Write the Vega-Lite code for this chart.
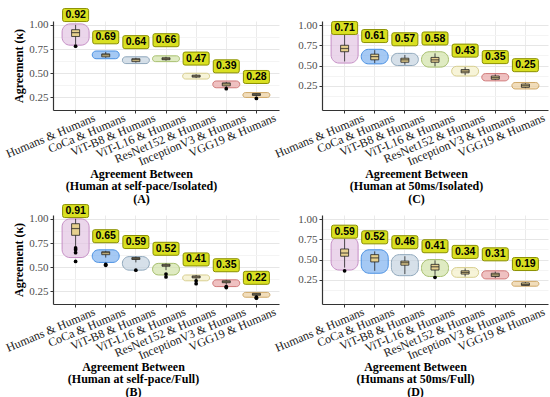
{
  "$schema": "https://vega.github.io/schema/vega-lite/v6.json",
  "padding": {"left": 3, "top": 6, "right": 2, "bottom": 2},
  "datasets": {
    "a": [
      {"cat": "Humans & Humans", "lo": 0.79, "hi": 1.01, "wlo": 0.80, "whi": 1.00, "q1": 0.88, "q3": 0.95, "med": 0.92, "k": 0.92},
      {"cat": "CoCa & Humans", "lo": 0.65, "hi": 0.73, "wlo": 0.66, "whi": 0.72, "q1": 0.67, "q3": 0.70, "med": 0.69, "k": 0.69},
      {"cat": "ViT-B8 & Humans", "lo": 0.60, "hi": 0.67, "wlo": 0.61, "whi": 0.66, "q1": 0.62, "q3": 0.65, "med": 0.64, "k": 0.64},
      {"cat": "ViT-L16 & Humans", "lo": 0.62, "hi": 0.68, "wlo": 0.63, "whi": 0.67, "q1": 0.64, "q3": 0.66, "med": 0.65, "k": 0.66},
      {"cat": "ResNet152 & Humans", "lo": 0.44, "hi": 0.50, "wlo": 0.45, "whi": 0.49, "q1": 0.46, "q3": 0.48, "med": 0.47, "k": 0.47},
      {"cat": "InceptionV3 & Humans", "lo": 0.35, "hi": 0.42, "wlo": 0.36, "whi": 0.41, "q1": 0.37, "q3": 0.40, "med": 0.39, "k": 0.39},
      {"cat": "VGG19 & Humans", "lo": 0.25, "hi": 0.30, "wlo": 0.26, "whi": 0.29, "q1": 0.27, "q3": 0.29, "med": 0.28, "k": 0.28}
    ],
    "b": [
      {"cat": "Humans & Humans", "lo": 0.60, "hi": 1.00, "wlo": 0.72, "whi": 1.00, "q1": 0.83, "q3": 0.95, "med": 0.90, "k": 0.91},
      {"cat": "CoCa & Humans", "lo": 0.55, "hi": 0.68, "wlo": 0.60, "whi": 0.67, "q1": 0.63, "q3": 0.66, "med": 0.65, "k": 0.65},
      {"cat": "ViT-B8 & Humans", "lo": 0.47, "hi": 0.61, "wlo": 0.55, "whi": 0.61, "q1": 0.58, "q3": 0.60, "med": 0.59, "k": 0.59},
      {"cat": "ViT-L16 & Humans", "lo": 0.42, "hi": 0.54, "wlo": 0.47, "whi": 0.54, "q1": 0.51, "q3": 0.53, "med": 0.52, "k": 0.52},
      {"cat": "ResNet152 & Humans", "lo": 0.36, "hi": 0.42, "wlo": 0.37, "whi": 0.42, "q1": 0.39, "q3": 0.41, "med": 0.40, "k": 0.41},
      {"cat": "InceptionV3 & Humans", "lo": 0.30, "hi": 0.37, "wlo": 0.32, "whi": 0.37, "q1": 0.34, "q3": 0.36, "med": 0.35, "k": 0.35},
      {"cat": "VGG19 & Humans", "lo": 0.19, "hi": 0.24, "wlo": 0.20, "whi": 0.23, "q1": 0.21, "q3": 0.23, "med": 0.22, "k": 0.22}
    ],
    "c": [
      {"cat": "Humans & Humans", "lo": 0.53, "hi": 0.96, "wlo": 0.55, "whi": 0.90, "q1": 0.67, "q3": 0.75, "med": 0.71, "k": 0.71},
      {"cat": "CoCa & Humans", "lo": 0.52, "hi": 0.70, "wlo": 0.53, "whi": 0.69, "q1": 0.57, "q3": 0.64, "med": 0.61, "k": 0.61},
      {"cat": "ViT-B8 & Humans", "lo": 0.50, "hi": 0.65, "wlo": 0.51, "whi": 0.63, "q1": 0.54, "q3": 0.59, "med": 0.57, "k": 0.57},
      {"cat": "ViT-L16 & Humans", "lo": 0.48, "hi": 0.67, "wlo": 0.49, "whi": 0.65, "q1": 0.54, "q3": 0.60, "med": 0.57, "k": 0.58},
      {"cat": "ResNet152 & Humans", "lo": 0.37, "hi": 0.49, "wlo": 0.38, "whi": 0.48, "q1": 0.41, "q3": 0.45, "med": 0.43, "k": 0.43},
      {"cat": "InceptionV3 & Humans", "lo": 0.31, "hi": 0.40, "wlo": 0.32, "whi": 0.39, "q1": 0.33, "q3": 0.37, "med": 0.35, "k": 0.35},
      {"cat": "VGG19 & Humans", "lo": 0.21, "hi": 0.29, "wlo": 0.22, "whi": 0.28, "q1": 0.23, "q3": 0.27, "med": 0.25, "k": 0.25}
    ],
    "d": [
      {"cat": "Humans & Humans", "lo": 0.37, "hi": 0.78, "wlo": 0.40, "whi": 0.76, "q1": 0.54, "q3": 0.63, "med": 0.58, "k": 0.59},
      {"cat": "CoCa & Humans", "lo": 0.33, "hi": 0.62, "wlo": 0.36, "whi": 0.60, "q1": 0.47, "q3": 0.56, "med": 0.52, "k": 0.52},
      {"cat": "ViT-B8 & Humans", "lo": 0.30, "hi": 0.56, "wlo": 0.32, "whi": 0.54, "q1": 0.43, "q3": 0.48, "med": 0.46, "k": 0.46},
      {"cat": "ViT-L16 & Humans", "lo": 0.29, "hi": 0.50, "wlo": 0.31, "whi": 0.49, "q1": 0.37, "q3": 0.44, "med": 0.41, "k": 0.41},
      {"cat": "ResNet152 & Humans", "lo": 0.28, "hi": 0.40, "wlo": 0.29, "whi": 0.39, "q1": 0.32, "q3": 0.36, "med": 0.34, "k": 0.34},
      {"cat": "InceptionV3 & Humans", "lo": 0.26, "hi": 0.36, "wlo": 0.27, "whi": 0.35, "q1": 0.29, "q3": 0.33, "med": 0.31, "k": 0.31},
      {"cat": "VGG19 & Humans", "lo": 0.17, "hi": 0.23, "wlo": 0.18, "whi": 0.22, "q1": 0.18, "q3": 0.21, "med": 0.19, "k": 0.19}
    ],
    "oa": [
      {"cat": "Humans & Humans", "v": 0.78},
      {"cat": "InceptionV3 & Humans", "v": 0.34},
      {"cat": "VGG19 & Humans", "v": 0.24}
    ],
    "ob": [
      {"cat": "Humans & Humans", "v": 0.70},
      {"cat": "Humans & Humans", "v": 0.68},
      {"cat": "Humans & Humans", "v": 0.65},
      {"cat": "Humans & Humans", "v": 0.56},
      {"cat": "CoCa & Humans", "v": 0.53},
      {"cat": "CoCa & Humans", "v": 0.52},
      {"cat": "ViT-B8 & Humans", "v": 0.47},
      {"cat": "ViT-L16 & Humans", "v": 0.43},
      {"cat": "ViT-L16 & Humans", "v": 0.40},
      {"cat": "ResNet152 & Humans", "v": 0.36},
      {"cat": "ResNet152 & Humans", "v": 0.33},
      {"cat": "InceptionV3 & Humans", "v": 0.30},
      {"cat": "InceptionV3 & Humans", "v": 0.29},
      {"cat": "VGG19 & Humans", "v": 0.19},
      {"cat": "VGG19 & Humans", "v": 0.18}
    ],
    "od": [
      {"cat": "Humans & Humans", "v": 0.36},
      {"cat": "ViT-L16 & Humans", "v": 0.28}
    ]
  },
  "concat": [
    {
      "width": 226, "height": 89,
      "data": {"name": "a"},
      "encoding": {
        "x": {"field": "cat", "type": "nominal", "sort": ["Humans & Humans", "CoCa & Humans", "ViT-B8 & Humans", "ViT-L16 & Humans", "ResNet152 & Humans", "InceptionV3 & Humans", "VGG19 & Humans"],
          "scale": {"paddingInner": 0, "paddingOuter": 0.25},
          "axis": {"title": ["Agreement Between", "(Human at self-pace/Isolated)", "(A)"], "titleX": 88, "titleY": 58, "titleBaseline": "top", "titleAlign": "center", "titleLineHeight": 12.5,
            "labelAngle": -23, "labelAlign": "right", "labelBaseline": "top", "labelOffset": 17, "labelPadding": -1, "labelFontSize": 12, "labelColor": "#1a1a1a", "labelOverlap": false, "labelBound": false, "grid": true}}
      },
      "layer": [
        {"mark": {"type": "bar", "width": 27, "cornerRadius": 8, "fillOpacity": 0.7, "strokeWidth": 1},
          "encoding": {
            "y": {"field": "lo", "type": "quantitative", "scale": {"domain": [0.12, 1.04]},
              "axis": {"title": "Agreement (κ)", "titlePadding": 3, "values": [0.125, 0.25, 0.375, 0.5, 0.625, 0.75, 0.875, 1], "labelExpr": "datum.value % 0.25 > 0.01 ? '' : format(datum.value, '.2f')", "labelFontSize": 11, "labelColor": "#4d4d4d", "labelPadding": 2, "gridColor": {"condition": {"test": "datum.value % 0.25 > 0.01", "value": "#f4f4f4"}, "value": "#e6e6e6"}, "tickOpacity": {"condition": {"test": "datum.value % 0.25 > 0.01", "value": 0}, "value": 1}}},
            "y2": {"field": "hi"},
            "fill": {"field": "cat", "type": "nominal", "scale": {"domain": ["Humans & Humans", "CoCa & Humans", "ViT-B8 & Humans", "ViT-L16 & Humans", "ResNet152 & Humans", "InceptionV3 & Humans", "VGG19 & Humans"], "range": ["#e3c4e3", "#7fb2f0", "#c5d3df", "#d2e3a8", "#f3efc8", "#e8a6a6", "#ebcf9e"]}, "legend": null},
            "stroke": {"field": "cat", "type": "nominal", "scale": {"domain": ["Humans & Humans", "CoCa & Humans", "ViT-B8 & Humans", "ViT-L16 & Humans", "ResNet152 & Humans", "InceptionV3 & Humans", "VGG19 & Humans"], "range": ["#c58ec5", "#4a90e2", "#90a8bc", "#a8c070", "#d8cf90", "#d07a7a", "#cfa868"]}, "legend": null}
          }},
        {"mark": {"type": "rule", "color": "#222", "strokeWidth": 0.8},
          "encoding": {"y": {"field": "wlo", "type": "quantitative", "scale": {"domain": [0.12, 1.04]},
              "axis": {"title": "Agreement (κ)", "titlePadding": 3, "values": [0.125, 0.25, 0.375, 0.5, 0.625, 0.75, 0.875, 1], "labelExpr": "datum.value % 0.25 > 0.01 ? '' : format(datum.value, '.2f')", "labelFontSize": 11, "labelColor": "#4d4d4d", "labelPadding": 2, "gridColor": {"condition": {"test": "datum.value % 0.25 > 0.01", "value": "#f4f4f4"}, "value": "#e6e6e6"}, "tickOpacity": {"condition": {"test": "datum.value % 0.25 > 0.01", "value": 0}, "value": 1}}}, "y2": {"field": "whi"}}},
        {"mark": {"type": "bar", "width": 8, "fill": "#e6d08e", "stroke": "#222", "strokeWidth": 0.8},
          "encoding": {"y": {"field": "q1", "type": "quantitative", "scale": {"domain": [0.12, 1.04]},
              "axis": {"title": "Agreement (κ)", "titlePadding": 3, "values": [0.125, 0.25, 0.375, 0.5, 0.625, 0.75, 0.875, 1], "labelExpr": "datum.value % 0.25 > 0.01 ? '' : format(datum.value, '.2f')", "labelFontSize": 11, "labelColor": "#4d4d4d", "labelPadding": 2, "gridColor": {"condition": {"test": "datum.value % 0.25 > 0.01", "value": "#f4f4f4"}, "value": "#e6e6e6"}, "tickOpacity": {"condition": {"test": "datum.value % 0.25 > 0.01", "value": 0}, "value": 1}}}, "y2": {"field": "q3"}}},
        {"mark": {"type": "tick", "color": "#222", "size": 8, "thickness": 1.2},
          "encoding": {"y": {"field": "med", "type": "quantitative", "scale": {"domain": [0.12, 1.04]},
              "axis": {"title": "Agreement (κ)", "titlePadding": 3, "values": [0.125, 0.25, 0.375, 0.5, 0.625, 0.75, 0.875, 1], "labelExpr": "datum.value % 0.25 > 0.01 ? '' : format(datum.value, '.2f')", "labelFontSize": 11, "labelColor": "#4d4d4d", "labelPadding": 2, "gridColor": {"condition": {"test": "datum.value % 0.25 > 0.01", "value": "#f4f4f4"}, "value": "#e6e6e6"}, "tickOpacity": {"condition": {"test": "datum.value % 0.25 > 0.01", "value": 0}, "value": 1}}}}},
        {"data": {"name": "oa"}, "mark": {"type": "point", "filled": true, "color": "#000", "size": 14, "opacity": 1},
          "encoding": {"y": {"field": "v", "type": "quantitative", "scale": {"domain": [0.12, 1.04]},
              "axis": {"title": "Agreement (κ)", "titlePadding": 3, "values": [0.125, 0.25, 0.375, 0.5, 0.625, 0.75, 0.875, 1], "labelExpr": "datum.value % 0.25 > 0.01 ? '' : format(datum.value, '.2f')", "labelFontSize": 11, "labelColor": "#4d4d4d", "labelPadding": 2, "gridColor": {"condition": {"test": "datum.value % 0.25 > 0.01", "value": "#f4f4f4"}, "value": "#e6e6e6"}, "tickOpacity": {"condition": {"test": "datum.value % 0.25 > 0.01", "value": 0}, "value": 1}}}}},
        {"mark": {"type": "point", "shape": "M-0.85,-1.85H0.85Q1,-1.85 1,-1.7V-1Q1,-0.85 0.85,-0.85H-0.85Q-1,-0.85 -1,-1V-1.7Q-1,-1.85 -0.85,-1.85Z", "size": 676, "filled": true, "fill": "#d9e021", "fillOpacity": 1, "stroke": "#8a8f00", "strokeWidth": 1, "opacity": 1},
          "encoding": {"y": {"field": "k", "type": "quantitative", "scale": {"domain": [0.12, 1.04]},
              "axis": {"title": "Agreement (κ)", "titlePadding": 3, "values": [0.125, 0.25, 0.375, 0.5, 0.625, 0.75, 0.875, 1], "labelExpr": "datum.value % 0.25 > 0.01 ? '' : format(datum.value, '.2f')", "labelFontSize": 11, "labelColor": "#4d4d4d", "labelPadding": 2, "gridColor": {"condition": {"test": "datum.value % 0.25 > 0.01", "value": "#f4f4f4"}, "value": "#e6e6e6"}, "tickOpacity": {"condition": {"test": "datum.value % 0.25 > 0.01", "value": 0}, "value": 1}}}}},
        {"mark": {"type": "text", "dy": -17.5, "font": "Liberation Sans", "fontWeight": "bold", "fontSize": 10.5, "color": "#000", "baseline": "middle"},
          "encoding": {"y": {"field": "k", "type": "quantitative", "scale": {"domain": [0.12, 1.04]},
              "axis": {"title": "Agreement (κ)", "titlePadding": 3, "values": [0.125, 0.25, 0.375, 0.5, 0.625, 0.75, 0.875, 1], "labelExpr": "datum.value % 0.25 > 0.01 ? '' : format(datum.value, '.2f')", "labelFontSize": 11, "labelColor": "#4d4d4d", "labelPadding": 2, "gridColor": {"condition": {"test": "datum.value % 0.25 > 0.01", "value": "#f4f4f4"}, "value": "#e6e6e6"}, "tickOpacity": {"condition": {"test": "datum.value % 0.25 > 0.01", "value": 0}, "value": 1}}}, "text": {"field": "k", "type": "quantitative", "format": ".2f"}}}
      ]
    },
    {
      "width": 226, "height": 89,
      "data": {"name": "c"},
      "encoding": {
        "x": {"field": "cat", "type": "nominal", "sort": ["Humans & Humans", "CoCa & Humans", "ViT-B8 & Humans", "ViT-L16 & Humans", "ResNet152 & Humans", "InceptionV3 & Humans", "VGG19 & Humans"],
          "scale": {"paddingInner": 0, "paddingOuter": 0.25},
          "axis": {"title": ["Agreement Between", "(Human at 50ms/Isolated)", "(C)"], "titleX": 94, "titleY": 58, "titleBaseline": "top", "titleAlign": "center", "titleLineHeight": 12.5,
            "labelAngle": -23, "labelAlign": "right", "labelBaseline": "top", "labelOffset": 17, "labelPadding": -1, "labelFontSize": 12, "labelColor": "#1a1a1a", "labelOverlap": false, "labelBound": false, "grid": true}}
      },
      "layer": [
        {"mark": {"type": "bar", "width": 27, "cornerRadius": 8, "fillOpacity": 0.7, "strokeWidth": 1},
          "encoding": {
            "y": {"field": "lo", "type": "quantitative", "scale": {"domain": [-0.05, 1.05]},
              "axis": {"title": null, "values": [0.125, 0.25, 0.375, 0.5, 0.625, 0.75, 0.875, 1], "labelExpr": "datum.value % 0.25 > 0.01 ? '' : format(datum.value, '.2f')", "labelFontSize": 11, "labelColor": "#4d4d4d", "labelPadding": 2, "gridColor": {"condition": {"test": "datum.value % 0.25 > 0.01", "value": "#f4f4f4"}, "value": "#e6e6e6"}, "tickOpacity": {"condition": {"test": "datum.value % 0.25 > 0.01", "value": 0}, "value": 1}}},
            "y2": {"field": "hi"},
            "fill": {"field": "cat", "type": "nominal", "scale": {"domain": ["Humans & Humans", "CoCa & Humans", "ViT-B8 & Humans", "ViT-L16 & Humans", "ResNet152 & Humans", "InceptionV3 & Humans", "VGG19 & Humans"], "range": ["#e3c4e3", "#7fb2f0", "#c5d3df", "#d2e3a8", "#f3efc8", "#e8a6a6", "#ebcf9e"]}, "legend": null},
            "stroke": {"field": "cat", "type": "nominal", "scale": {"domain": ["Humans & Humans", "CoCa & Humans", "ViT-B8 & Humans", "ViT-L16 & Humans", "ResNet152 & Humans", "InceptionV3 & Humans", "VGG19 & Humans"], "range": ["#c58ec5", "#4a90e2", "#90a8bc", "#a8c070", "#d8cf90", "#d07a7a", "#cfa868"]}, "legend": null}
          }},
        {"mark": {"type": "rule", "color": "#222", "strokeWidth": 0.8},
          "encoding": {"y": {"field": "wlo", "type": "quantitative", "scale": {"domain": [-0.05, 1.05]},
              "axis": {"title": null, "values": [0.125, 0.25, 0.375, 0.5, 0.625, 0.75, 0.875, 1], "labelExpr": "datum.value % 0.25 > 0.01 ? '' : format(datum.value, '.2f')", "labelFontSize": 11, "labelColor": "#4d4d4d", "labelPadding": 2, "gridColor": {"condition": {"test": "datum.value % 0.25 > 0.01", "value": "#f4f4f4"}, "value": "#e6e6e6"}, "tickOpacity": {"condition": {"test": "datum.value % 0.25 > 0.01", "value": 0}, "value": 1}}}, "y2": {"field": "whi"}}},
        {"mark": {"type": "bar", "width": 8, "fill": "#e6d08e", "stroke": "#222", "strokeWidth": 0.8},
          "encoding": {"y": {"field": "q1", "type": "quantitative", "scale": {"domain": [-0.05, 1.05]},
              "axis": {"title": null, "values": [0.125, 0.25, 0.375, 0.5, 0.625, 0.75, 0.875, 1], "labelExpr": "datum.value % 0.25 > 0.01 ? '' : format(datum.value, '.2f')", "labelFontSize": 11, "labelColor": "#4d4d4d", "labelPadding": 2, "gridColor": {"condition": {"test": "datum.value % 0.25 > 0.01", "value": "#f4f4f4"}, "value": "#e6e6e6"}, "tickOpacity": {"condition": {"test": "datum.value % 0.25 > 0.01", "value": 0}, "value": 1}}}, "y2": {"field": "q3"}}},
        {"mark": {"type": "tick", "color": "#222", "size": 8, "thickness": 1.2},
          "encoding": {"y": {"field": "med", "type": "quantitative", "scale": {"domain": [-0.05, 1.05]},
              "axis": {"title": null, "values": [0.125, 0.25, 0.375, 0.5, 0.625, 0.75, 0.875, 1], "labelExpr": "datum.value % 0.25 > 0.01 ? '' : format(datum.value, '.2f')", "labelFontSize": 11, "labelColor": "#4d4d4d", "labelPadding": 2, "gridColor": {"condition": {"test": "datum.value % 0.25 > 0.01", "value": "#f4f4f4"}, "value": "#e6e6e6"}, "tickOpacity": {"condition": {"test": "datum.value % 0.25 > 0.01", "value": 0}, "value": 1}}}}},
        {"mark": {"type": "point", "shape": "M-0.85,-2.08H0.85Q1,-2.08 1,-1.93V-1.23Q1,-1.08 0.85,-1.08H-0.85Q-1,-1.08 -1,-1.23V-1.93Q-1,-2.08 -0.85,-2.08Z", "size": 676, "filled": true, "fill": "#d9e021", "fillOpacity": 1, "stroke": "#8a8f00", "strokeWidth": 1, "opacity": 1},
          "encoding": {"y": {"field": "k", "type": "quantitative", "scale": {"domain": [-0.05, 1.05]},
              "axis": {"title": null, "values": [0.125, 0.25, 0.375, 0.5, 0.625, 0.75, 0.875, 1], "labelExpr": "datum.value % 0.25 > 0.01 ? '' : format(datum.value, '.2f')", "labelFontSize": 11, "labelColor": "#4d4d4d", "labelPadding": 2, "gridColor": {"condition": {"test": "datum.value % 0.25 > 0.01", "value": "#f4f4f4"}, "value": "#e6e6e6"}, "tickOpacity": {"condition": {"test": "datum.value % 0.25 > 0.01", "value": 0}, "value": 1}}}}},
        {"mark": {"type": "text", "dy": -20.5, "font": "Liberation Sans", "fontWeight": "bold", "fontSize": 10.5, "color": "#000", "baseline": "middle"},
          "encoding": {"y": {"field": "k", "type": "quantitative", "scale": {"domain": [-0.05, 1.05]},
              "axis": {"title": null, "values": [0.125, 0.25, 0.375, 0.5, 0.625, 0.75, 0.875, 1], "labelExpr": "datum.value % 0.25 > 0.01 ? '' : format(datum.value, '.2f')", "labelFontSize": 11, "labelColor": "#4d4d4d", "labelPadding": 2, "gridColor": {"condition": {"test": "datum.value % 0.25 > 0.01", "value": "#f4f4f4"}, "value": "#e6e6e6"}, "tickOpacity": {"condition": {"test": "datum.value % 0.25 > 0.01", "value": 0}, "value": 1}}}, "text": {"field": "k", "type": "quantitative", "format": ".2f"}}}
      ]
    },
    {
      "width": 226, "height": 89,
      "data": {"name": "b"},
      "encoding": {
        "x": {"field": "cat", "type": "nominal", "sort": ["Humans & Humans", "CoCa & Humans", "ViT-B8 & Humans", "ViT-L16 & Humans", "ResNet152 & Humans", "InceptionV3 & Humans", "VGG19 & Humans"],
          "scale": {"paddingInner": 0, "paddingOuter": 0.25},
          "axis": {"title": ["Agreement Between", "(Human at self-pace/Full)", "(B)"], "titleX": 80, "titleY": 57, "titleBaseline": "top", "titleAlign": "center", "titleLineHeight": 12.5,
            "labelAngle": -23, "labelAlign": "right", "labelBaseline": "top", "labelOffset": 17, "labelPadding": -1, "labelFontSize": 12, "labelColor": "#1a1a1a", "labelOverlap": false, "labelBound": false, "grid": true}}
      },
      "layer": [
        {"mark": {"type": "bar", "width": 27, "cornerRadius": 8, "fillOpacity": 0.7, "strokeWidth": 1},
          "encoding": {
            "y": {"field": "lo", "type": "quantitative", "scale": {"domain": [0.12, 1.04]},
              "axis": {"title": "Agreement (κ)", "titlePadding": 3, "values": [0.125, 0.25, 0.375, 0.5, 0.625, 0.75, 0.875, 1], "labelExpr": "datum.value % 0.25 > 0.01 ? '' : format(datum.value, '.2f')", "labelFontSize": 11, "labelColor": "#4d4d4d", "labelPadding": 2, "gridColor": {"condition": {"test": "datum.value % 0.25 > 0.01", "value": "#f4f4f4"}, "value": "#e6e6e6"}, "tickOpacity": {"condition": {"test": "datum.value % 0.25 > 0.01", "value": 0}, "value": 1}}},
            "y2": {"field": "hi"},
            "fill": {"field": "cat", "type": "nominal", "scale": {"domain": ["Humans & Humans", "CoCa & Humans", "ViT-B8 & Humans", "ViT-L16 & Humans", "ResNet152 & Humans", "InceptionV3 & Humans", "VGG19 & Humans"], "range": ["#e3c4e3", "#7fb2f0", "#c5d3df", "#d2e3a8", "#f3efc8", "#e8a6a6", "#ebcf9e"]}, "legend": null},
            "stroke": {"field": "cat", "type": "nominal", "scale": {"domain": ["Humans & Humans", "CoCa & Humans", "ViT-B8 & Humans", "ViT-L16 & Humans", "ResNet152 & Humans", "InceptionV3 & Humans", "VGG19 & Humans"], "range": ["#c58ec5", "#4a90e2", "#90a8bc", "#a8c070", "#d8cf90", "#d07a7a", "#cfa868"]}, "legend": null}
          }},
        {"mark": {"type": "rule", "color": "#222", "strokeWidth": 0.8},
          "encoding": {"y": {"field": "wlo", "type": "quantitative", "scale": {"domain": [0.12, 1.04]},
              "axis": {"title": "Agreement (κ)", "titlePadding": 3, "values": [0.125, 0.25, 0.375, 0.5, 0.625, 0.75, 0.875, 1], "labelExpr": "datum.value % 0.25 > 0.01 ? '' : format(datum.value, '.2f')", "labelFontSize": 11, "labelColor": "#4d4d4d", "labelPadding": 2, "gridColor": {"condition": {"test": "datum.value % 0.25 > 0.01", "value": "#f4f4f4"}, "value": "#e6e6e6"}, "tickOpacity": {"condition": {"test": "datum.value % 0.25 > 0.01", "value": 0}, "value": 1}}}, "y2": {"field": "whi"}}},
        {"mark": {"type": "bar", "width": 8, "fill": "#e6d08e", "stroke": "#222", "strokeWidth": 0.8},
          "encoding": {"y": {"field": "q1", "type": "quantitative", "scale": {"domain": [0.12, 1.04]},
              "axis": {"title": "Agreement (κ)", "titlePadding": 3, "values": [0.125, 0.25, 0.375, 0.5, 0.625, 0.75, 0.875, 1], "labelExpr": "datum.value % 0.25 > 0.01 ? '' : format(datum.value, '.2f')", "labelFontSize": 11, "labelColor": "#4d4d4d", "labelPadding": 2, "gridColor": {"condition": {"test": "datum.value % 0.25 > 0.01", "value": "#f4f4f4"}, "value": "#e6e6e6"}, "tickOpacity": {"condition": {"test": "datum.value % 0.25 > 0.01", "value": 0}, "value": 1}}}, "y2": {"field": "q3"}}},
        {"mark": {"type": "tick", "color": "#222", "size": 8, "thickness": 1.2},
          "encoding": {"y": {"field": "med", "type": "quantitative", "scale": {"domain": [0.12, 1.04]},
              "axis": {"title": "Agreement (κ)", "titlePadding": 3, "values": [0.125, 0.25, 0.375, 0.5, 0.625, 0.75, 0.875, 1], "labelExpr": "datum.value % 0.25 > 0.01 ? '' : format(datum.value, '.2f')", "labelFontSize": 11, "labelColor": "#4d4d4d", "labelPadding": 2, "gridColor": {"condition": {"test": "datum.value % 0.25 > 0.01", "value": "#f4f4f4"}, "value": "#e6e6e6"}, "tickOpacity": {"condition": {"test": "datum.value % 0.25 > 0.01", "value": 0}, "value": 1}}}}},
        {"data": {"name": "ob"}, "mark": {"type": "point", "filled": true, "color": "#000", "size": 14, "opacity": 1},
          "encoding": {"y": {"field": "v", "type": "quantitative", "scale": {"domain": [0.12, 1.04]},
              "axis": {"title": "Agreement (κ)", "titlePadding": 3, "values": [0.125, 0.25, 0.375, 0.5, 0.625, 0.75, 0.875, 1], "labelExpr": "datum.value % 0.25 > 0.01 ? '' : format(datum.value, '.2f')", "labelFontSize": 11, "labelColor": "#4d4d4d", "labelPadding": 2, "gridColor": {"condition": {"test": "datum.value % 0.25 > 0.01", "value": "#f4f4f4"}, "value": "#e6e6e6"}, "tickOpacity": {"condition": {"test": "datum.value % 0.25 > 0.01", "value": 0}, "value": 1}}}}},
        {"mark": {"type": "point", "shape": "M-0.85,-1.77H0.85Q1,-1.77 1,-1.62V-0.92Q1,-0.77 0.85,-0.77H-0.85Q-1,-0.77 -1,-0.92V-1.62Q-1,-1.77 -0.85,-1.77Z", "size": 676, "filled": true, "fill": "#d9e021", "fillOpacity": 1, "stroke": "#8a8f00", "strokeWidth": 1, "opacity": 1},
          "encoding": {"y": {"field": "k", "type": "quantitative", "scale": {"domain": [0.12, 1.04]},
              "axis": {"title": "Agreement (κ)", "titlePadding": 3, "values": [0.125, 0.25, 0.375, 0.5, 0.625, 0.75, 0.875, 1], "labelExpr": "datum.value % 0.25 > 0.01 ? '' : format(datum.value, '.2f')", "labelFontSize": 11, "labelColor": "#4d4d4d", "labelPadding": 2, "gridColor": {"condition": {"test": "datum.value % 0.25 > 0.01", "value": "#f4f4f4"}, "value": "#e6e6e6"}, "tickOpacity": {"condition": {"test": "datum.value % 0.25 > 0.01", "value": 0}, "value": 1}}}}},
        {"mark": {"type": "text", "dy": -16.5, "font": "Liberation Sans", "fontWeight": "bold", "fontSize": 10.5, "color": "#000", "baseline": "middle"},
          "encoding": {"y": {"field": "k", "type": "quantitative", "scale": {"domain": [0.12, 1.04]},
              "axis": {"title": "Agreement (κ)", "titlePadding": 3, "values": [0.125, 0.25, 0.375, 0.5, 0.625, 0.75, 0.875, 1], "labelExpr": "datum.value % 0.25 > 0.01 ? '' : format(datum.value, '.2f')", "labelFontSize": 11, "labelColor": "#4d4d4d", "labelPadding": 2, "gridColor": {"condition": {"test": "datum.value % 0.25 > 0.01", "value": "#f4f4f4"}, "value": "#e6e6e6"}, "tickOpacity": {"condition": {"test": "datum.value % 0.25 > 0.01", "value": 0}, "value": 1}}}, "text": {"field": "k", "type": "quantitative", "format": ".2f"}}}
      ]
    },
    {
      "width": 226, "height": 89,
      "data": {"name": "d"},
      "encoding": {
        "x": {"field": "cat", "type": "nominal", "sort": ["Humans & Humans", "CoCa & Humans", "ViT-B8 & Humans", "ViT-L16 & Humans", "ResNet152 & Humans", "InceptionV3 & Humans", "VGG19 & Humans"],
          "scale": {"paddingInner": 0, "paddingOuter": 0.25},
          "axis": {"title": ["Agreement Between", "(Humans at 50ms/Full)", "(D)"], "titleX": 93, "titleY": 57, "titleBaseline": "top", "titleAlign": "center", "titleLineHeight": 12.5,
            "labelAngle": -23, "labelAlign": "right", "labelBaseline": "top", "labelOffset": 17, "labelPadding": -1, "labelFontSize": 12, "labelColor": "#1a1a1a", "labelOverlap": false, "labelBound": false, "grid": true}}
      },
      "layer": [
        {"mark": {"type": "bar", "width": 27, "cornerRadius": 8, "fillOpacity": 0.7, "strokeWidth": 1},
          "encoding": {
            "y": {"field": "lo", "type": "quantitative", "scale": {"domain": [-0.05, 1.05]},
              "axis": {"title": null, "values": [0.125, 0.25, 0.375, 0.5, 0.625, 0.75, 0.875, 1], "labelExpr": "datum.value % 0.25 > 0.01 ? '' : format(datum.value, '.2f')", "labelFontSize": 11, "labelColor": "#4d4d4d", "labelPadding": 2, "gridColor": {"condition": {"test": "datum.value % 0.25 > 0.01", "value": "#f4f4f4"}, "value": "#e6e6e6"}, "tickOpacity": {"condition": {"test": "datum.value % 0.25 > 0.01", "value": 0}, "value": 1}}},
            "y2": {"field": "hi"},
            "fill": {"field": "cat", "type": "nominal", "scale": {"domain": ["Humans & Humans", "CoCa & Humans", "ViT-B8 & Humans", "ViT-L16 & Humans", "ResNet152 & Humans", "InceptionV3 & Humans", "VGG19 & Humans"], "range": ["#e3c4e3", "#7fb2f0", "#c5d3df", "#d2e3a8", "#f3efc8", "#e8a6a6", "#ebcf9e"]}, "legend": null},
            "stroke": {"field": "cat", "type": "nominal", "scale": {"domain": ["Humans & Humans", "CoCa & Humans", "ViT-B8 & Humans", "ViT-L16 & Humans", "ResNet152 & Humans", "InceptionV3 & Humans", "VGG19 & Humans"], "range": ["#c58ec5", "#4a90e2", "#90a8bc", "#a8c070", "#d8cf90", "#d07a7a", "#cfa868"]}, "legend": null}
          }},
        {"mark": {"type": "rule", "color": "#222", "strokeWidth": 0.8},
          "encoding": {"y": {"field": "wlo", "type": "quantitative", "scale": {"domain": [-0.05, 1.05]},
              "axis": {"title": null, "values": [0.125, 0.25, 0.375, 0.5, 0.625, 0.75, 0.875, 1], "labelExpr": "datum.value % 0.25 > 0.01 ? '' : format(datum.value, '.2f')", "labelFontSize": 11, "labelColor": "#4d4d4d", "labelPadding": 2, "gridColor": {"condition": {"test": "datum.value % 0.25 > 0.01", "value": "#f4f4f4"}, "value": "#e6e6e6"}, "tickOpacity": {"condition": {"test": "datum.value % 0.25 > 0.01", "value": 0}, "value": 1}}}, "y2": {"field": "whi"}}},
        {"mark": {"type": "bar", "width": 8, "fill": "#e6d08e", "stroke": "#222", "strokeWidth": 0.8},
          "encoding": {"y": {"field": "q1", "type": "quantitative", "scale": {"domain": [-0.05, 1.05]},
              "axis": {"title": null, "values": [0.125, 0.25, 0.375, 0.5, 0.625, 0.75, 0.875, 1], "labelExpr": "datum.value % 0.25 > 0.01 ? '' : format(datum.value, '.2f')", "labelFontSize": 11, "labelColor": "#4d4d4d", "labelPadding": 2, "gridColor": {"condition": {"test": "datum.value % 0.25 > 0.01", "value": "#f4f4f4"}, "value": "#e6e6e6"}, "tickOpacity": {"condition": {"test": "datum.value % 0.25 > 0.01", "value": 0}, "value": 1}}}, "y2": {"field": "q3"}}},
        {"mark": {"type": "tick", "color": "#222", "size": 8, "thickness": 1.2},
          "encoding": {"y": {"field": "med", "type": "quantitative", "scale": {"domain": [-0.05, 1.05]},
              "axis": {"title": null, "values": [0.125, 0.25, 0.375, 0.5, 0.625, 0.75, 0.875, 1], "labelExpr": "datum.value % 0.25 > 0.01 ? '' : format(datum.value, '.2f')", "labelFontSize": 11, "labelColor": "#4d4d4d", "labelPadding": 2, "gridColor": {"condition": {"test": "datum.value % 0.25 > 0.01", "value": "#f4f4f4"}, "value": "#e6e6e6"}, "tickOpacity": {"condition": {"test": "datum.value % 0.25 > 0.01", "value": 0}, "value": 1}}}}},
        {"data": {"name": "od"}, "mark": {"type": "point", "filled": true, "color": "#000", "size": 14, "opacity": 1},
          "encoding": {"y": {"field": "v", "type": "quantitative", "scale": {"domain": [-0.05, 1.05]},
              "axis": {"title": null, "values": [0.125, 0.25, 0.375, 0.5, 0.625, 0.75, 0.875, 1], "labelExpr": "datum.value % 0.25 > 0.01 ? '' : format(datum.value, '.2f')", "labelFontSize": 11, "labelColor": "#4d4d4d", "labelPadding": 2, "gridColor": {"condition": {"test": "datum.value % 0.25 > 0.01", "value": "#f4f4f4"}, "value": "#e6e6e6"}, "tickOpacity": {"condition": {"test": "datum.value % 0.25 > 0.01", "value": 0}, "value": 1}}}}},
        {"mark": {"type": "point", "shape": "M-0.85,-2.08H0.85Q1,-2.08 1,-1.93V-1.23Q1,-1.08 0.85,-1.08H-0.85Q-1,-1.08 -1,-1.23V-1.93Q-1,-2.08 -0.85,-2.08Z", "size": 676, "filled": true, "fill": "#d9e021", "fillOpacity": 1, "stroke": "#8a8f00", "strokeWidth": 1, "opacity": 1},
          "encoding": {"y": {"field": "k", "type": "quantitative", "scale": {"domain": [-0.05, 1.05]},
              "axis": {"title": null, "values": [0.125, 0.25, 0.375, 0.5, 0.625, 0.75, 0.875, 1], "labelExpr": "datum.value % 0.25 > 0.01 ? '' : format(datum.value, '.2f')", "labelFontSize": 11, "labelColor": "#4d4d4d", "labelPadding": 2, "gridColor": {"condition": {"test": "datum.value % 0.25 > 0.01", "value": "#f4f4f4"}, "value": "#e6e6e6"}, "tickOpacity": {"condition": {"test": "datum.value % 0.25 > 0.01", "value": 0}, "value": 1}}}}},
        {"mark": {"type": "text", "dy": -20.5, "font": "Liberation Sans", "fontWeight": "bold", "fontSize": 10.5, "color": "#000", "baseline": "middle"},
          "encoding": {"y": {"field": "k", "type": "quantitative", "scale": {"domain": [-0.05, 1.05]},
              "axis": {"title": null, "values": [0.125, 0.25, 0.375, 0.5, 0.625, 0.75, 0.875, 1], "labelExpr": "datum.value % 0.25 > 0.01 ? '' : format(datum.value, '.2f')", "labelFontSize": 11, "labelColor": "#4d4d4d", "labelPadding": 2, "gridColor": {"condition": {"test": "datum.value % 0.25 > 0.01", "value": "#f4f4f4"}, "value": "#e6e6e6"}, "tickOpacity": {"condition": {"test": "datum.value % 0.25 > 0.01", "value": 0}, "value": 1}}}, "text": {"field": "k", "type": "quantitative", "format": ".2f"}}}
      ]
    }
  ],
  "columns": 2,
  "bounds": "flush",
  "spacing": {"row": 105, "column": 43},
  "resolve": {"scale": {"x": "independent", "y": "independent"}},
  "config": {
    "view": {"stroke": null},
    "axis": {"labelFont": "Liberation Serif", "titleFont": "Liberation Serif", "titleFontWeight": "bold", "titleFontSize": 12, "titleColor": "#000", "domainColor": "#333", "domainWidth": 1.2, "tickColor": "#333", "tickSize": 3, "gridColor": "#ebebeb"}
  }
}
